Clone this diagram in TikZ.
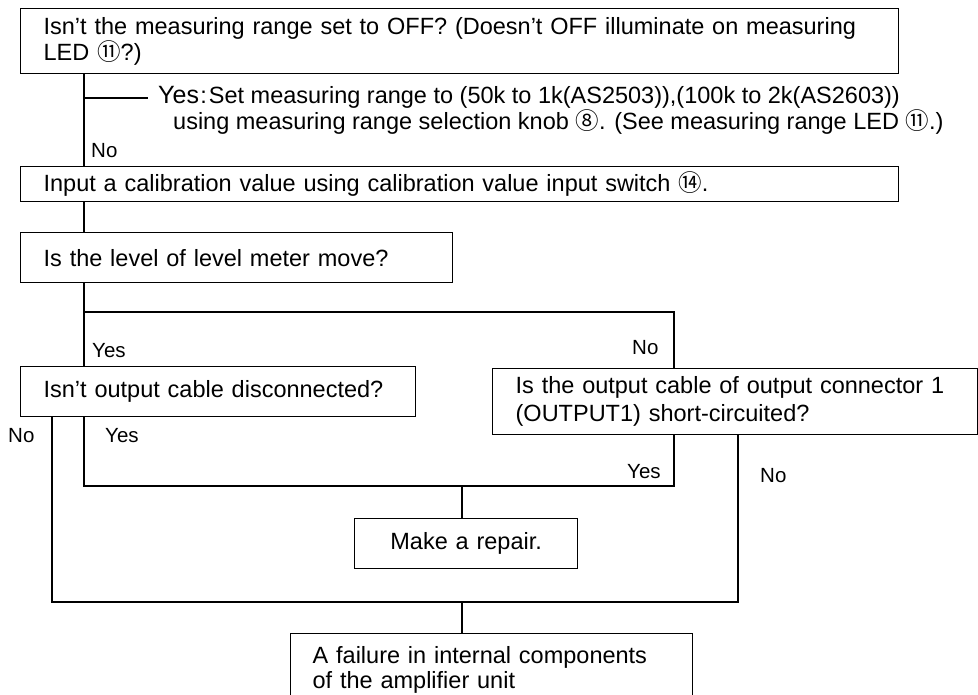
\documentclass[tikz,border=0pt]{standalone}
\usepackage{fontspec}
\setmainfont{Liberation Sans}
\newfontfamily\circfont{Noto Sans CJK JP}
\newcommand{\cnum}[1]{{\circfont #1}}
\tikzset{
  box/.style={draw, line width=1.3pt, anchor=north west, inner ysep=0pt, align=left},
  lbl/.style={inner sep=0pt, anchor=base west, font=\fontsize{20.5}{20.5}\selectfont},
  conn/.style={line width=1.3pt},
}
\begin{document}
\begin{tikzpicture}[x=1pt,y=-1pt]
\useasboundingbox (0,0) rectangle (978,695);
\clip (0,0) rectangle (978,695);

% boxes
\node[box, font=\fontsize{23.5}{23}\selectfont, minimum width=878pt, minimum height=65pt, inner xsep=23pt, text width=832pt] (b1) at (20,8)
  {Isn’t the measuring range set to OFF? (Doesn’t OFF illuminate on measuring\\LED \cnum{⑪}?)};
\node[box, font=\fontsize{23.5}{23}\selectfont, minimum width=878pt, minimum height=35pt, inner xsep=23pt, text width=832pt] (b2) at (20,166)
  {Input a calibration value using calibration value input switch \cnum{⑭}.};
\node[box, font=\fontsize{23.5}{23}\selectfont, minimum width=432pt, minimum height=50pt, inner xsep=23pt, text width=386pt] (b3) at (20,232)
  {Is the level of level meter move?};
\node[box, font=\fontsize{23.5}{23}\selectfont, minimum width=395pt, minimum height=50pt, inner xsep=23pt, text width=349pt] (b4) at (20,366)
  {Isn’t output cable disconnected?};
\node[box, font=\fontsize{23.5}{28}\selectfont, minimum width=485pt, minimum height=66pt, inner xsep=23pt, text width=439pt] (b5) at (492,368)
  {Is the output cable of output connector 1\\(OUTPUT1) short-circuited?};
\node[box, font=\fontsize{23.5}{23}\selectfont, minimum width=223pt, minimum height=50pt, inner xsep=10pt, text width=203pt, align=center] (b6) at (354,518)
  {Make a repair.};
\node[box, font=\fontsize{23.5}{25}\selectfont, minimum width=402pt, minimum height=72pt, inner xsep=22pt, text width=358pt] (b7) at (290,633)
  {A failure in internal components\\of the amplifier unit};

% junction coordinates
\coordinate (y1) at (84,98);
\coordinate (y1e) at (148,98);
\coordinate (s1) at (84,312);
\coordinate (s1r) at (674,312);
\coordinate (j1) at (84,486);
\coordinate (j1r) at (674,486);
\coordinate (j1m) at (462,486);
\coordinate (k1) at (52,602);
\coordinate (k1r) at (738,602);
\coordinate (k1m) at (462,602);

% connectors
\draw[conn] (b1.south -| y1) -- (b2.north -| y1);
\draw[conn] (y1) -- (y1e);
\draw[conn] (b2.south -| y1) -- (b3.north -| y1);
\draw[conn] (b3.south -| s1) -- (s1) -- (s1r) -- (b5.north -| s1r);
\draw[conn] (s1) -- (b4.north -| s1);
\draw[conn] (b4.south -| j1) -- (j1) -- (j1r) -- (b5.south -| j1r);
\draw[conn] (j1m) -- (b6.north -| j1m);
\draw[conn] (b4.south -| k1) -- (k1) -- (k1r) -- (b5.south -| k1r);
\draw[conn] (k1m) -- (b7.north -| k1m);

% labels
\node[lbl, font=\fontsize{25}{25}\selectfont] (yes0) at (158,104) {Yes};
\node[lbl, font=\fontsize{23.5}{23}\selectfont] (yt1) at (yes0.base east) {\hspace{1pt}:\hspace{2pt}Set measuring range to (50k to 1k(AS2503)),(100k to 2k(AS2603))};
\node[lbl, font=\fontsize{23.5}{23}\selectfont] (yt2) at (173,130) {using measuring range selection knob \cnum{⑧}. (See measuring range LED \cnum{⑪}.)};
\node[lbl] (no1) at (91,158) {No};
\node[lbl] (yes2) at (92,357) {Yes};
\node[lbl] (no2) at (632,355) {No};
\node[lbl] (no3) at (8,442) {No};
\node[lbl] (yes3) at (105,442) {Yes};
\node[lbl] (yes4) at (627,478) {Yes};
\node[lbl] (no4) at (760,482) {No};
\end{tikzpicture}
\end{document}
